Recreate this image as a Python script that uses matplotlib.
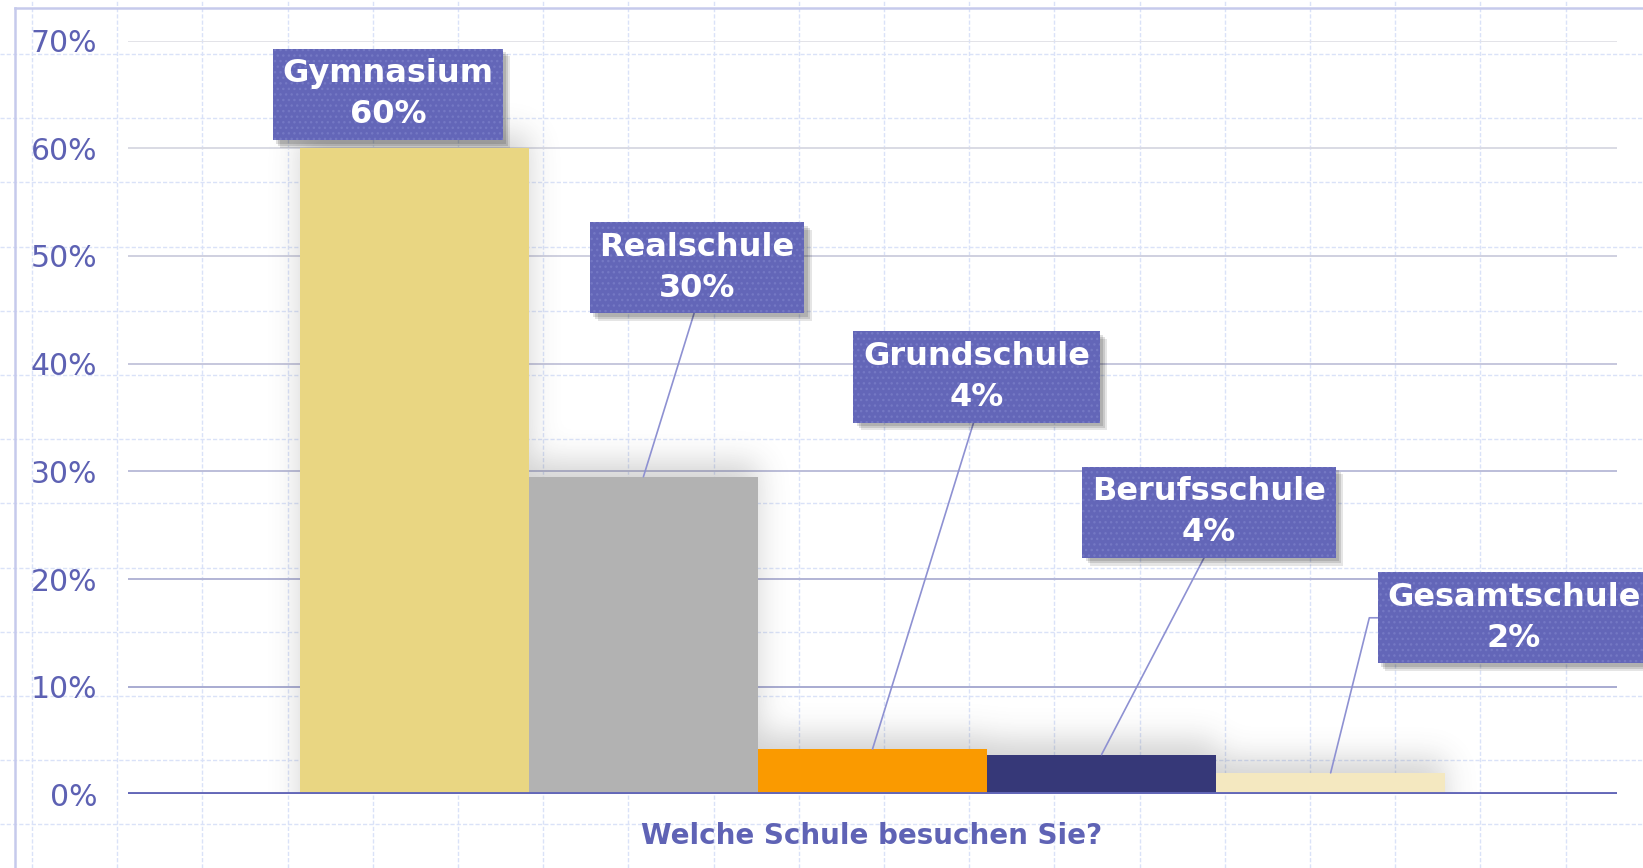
import numpy as np
import matplotlib
matplotlib.use("Agg")
import matplotlib.pyplot as plt
from matplotlib import patheffects

# daten
schulen = ["Gymnasium", "Realschule", "Grundschule", "Berufsschule", "Gesamtschule"]
anteile = [60.0, 29.5, 4.2, 3.7, 2.0]
beschriftung = ["60%", "30%", "4%", "4%", "2%"]
farben = ["#E9D682", "#B2B2B2", "#FA9A00", "#363878", "#F4E8C0"]
y_ticks = [0, 10, 20, 30, 40, 50, 60, 70]
titel = "Welche Schule besuchen Sie?"

# wo die beschriftungskaesten sitzen (datenkoordinaten)
label_pos = [(-0.116, 65.0), (1.234, 48.9), (2.454, 38.75), (3.469, 26.2), (4.80, 16.4)]

W, H = 1643, 868
fig = plt.figure(figsize=(W / 100, H / 100), dpi=100)
fig.patch.set_facecolor("white")

# karopapier im hintergrund
bg = fig.add_axes([0, 0, 1, 1], zorder=-10)
bg.set_xlim(0, W)
bg.set_ylim(H, 0)
bg.axis("off")
for x in np.arange(32, W, 85.2):
    bg.axvline(x, color="#DAE2F8", lw=1.0, ls=(0, (3, 1.5)))
for y in np.arange(54 - 64.2, H, 64.2):
    bg.axhline(y, color="#DAE2F8", lw=1.0, ls=(0, (3, 1.5)))
bg.plot([15, 15], [8, H], color="#C6CAEC", lw=1.8)
bg.plot([15, W], [8, 8], color="#C6CAEC", lw=1.8)

left, right = 128 / W, 1617 / W
bottom, top = (H - 794.4) / H, (H - 40.6) / H
ax = fig.add_axes([left, bottom, right - left, top - bottom])
ax.patch.set_alpha(0)
ax.set_xlim(-1.25, 5.25)
ax.set_ylim(0, 70)
for s in ax.spines.values():
    s.set_visible(False)

# gitterlinien, oben heller
for t in y_ticks[1:]:
    f = (t - 10) / 60
    c = np.array([0.66, 0.67, 0.82]) * (1 - f) + np.array([0.89, 0.89, 0.91]) * f
    ax.axhline(t, color=c, lw=1.4, zorder=0.5)

# weicher schatten um die balken
nx, ny = 1489, 808
xs = -1.25 + (np.arange(nx) + 0.5) * 6.5 / nx
ys = 70 - (np.arange(ny) + 0.5) * 75 / ny
mask = np.zeros((ny, nx))
for i, v in enumerate(anteile):
    inx = (xs >= i - 0.5) & (xs <= i + 0.5)
    iny = ys <= v + 1.3
    mask[np.ix_(iny, inx)] = 1
k = np.exp(-0.5 * (np.arange(-45, 46) / 15.0) ** 2)
k /= k.sum()
blur = np.apply_along_axis(lambda r: np.convolve(r, k, mode="same"), 1, mask)
blur = np.apply_along_axis(lambda r: np.convolve(r, k, mode="same"), 0, blur)
schatten = np.zeros((ny, nx, 4))
schatten[..., :3] = 0.3
schatten[..., 3] = 0.25 * blur
ax.imshow(schatten, extent=(-1.25, 5.25, -5, 70), aspect="auto", origin="upper",
          interpolation="bilinear", zorder=1)

ax.bar(range(len(schulen)), anteile, width=1.0, color=farben, linewidth=0, zorder=3)
ax.axhline(0, color="#6367B8", lw=2.8, zorder=4)

ax.set_xticks([])
ax.set_yticks(y_ticks)
ax.set_yticklabels([f"{t}%" for t in y_ticks])
ax.tick_params(axis="y", length=0, pad=22, labelsize=21.5, labelcolor="#5D61B3")

# schatten ohne punktmuster
kasten_schatten = [
    patheffects.SimplePatchShadow(offset=(5.5, -5.5), shadow_rgbFace="black", alpha=0.10,
                                  hatch=None),
    patheffects.SimplePatchShadow(offset=(4, -4), shadow_rgbFace="black", alpha=0.12,
                                  hatch=None),
    patheffects.SimplePatchShadow(offset=(2.5, -2.5), shadow_rgbFace="black", alpha=0.12,
                                  hatch=None),
    patheffects.Normal(),
]

for i, (name, lab, v, pos) in enumerate(zip(schulen, beschriftung, anteile, label_pos)):
    txt = f"{name}\n{lab}"
    if i == 0:
        arrow = None
    elif i == len(schulen) - 1:
        arrow = dict(arrowstyle="-", color="#8E91D2", lw=1.2, shrinkA=0, shrinkB=0,
                     relpos=(0, 0.5), connectionstyle="angle,angleA=180,angleB=76,rad=0")
    else:
        arrow = dict(arrowstyle="-", color="#8E91D2", lw=1.2, shrinkA=0, shrinkB=0,
                     relpos=(0.5, 0))
    ann = ax.annotate(txt, xy=(i, v), xytext=pos, textcoords="data", ha="center",
                      va="center", fontsize=23, fontweight="bold", color="white",
                      linespacing=1.42,
                      bbox=dict(boxstyle="square,pad=0.3", fc="#6366B8", ec="#7478C4",
                                lw=0, hatch="..."),
                      arrowprops=arrow, zorder=6, annotation_clip=False)
    ann.get_bbox_patch().set_path_effects(kasten_schatten)

fig.text(872 / W, 1 - 836 / H, titel, ha="center", va="center", fontsize=20,
         fontweight="bold", color="#5F63B5")

fig.savefig("out.png", dpi=100)
